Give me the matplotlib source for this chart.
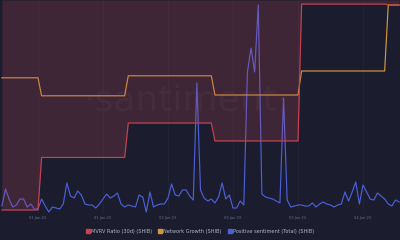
import numpy as np
import matplotlib
matplotlib.use("Agg")
import matplotlib.pyplot as plt
from matplotlib.lines import Line2D

# hourly positive sentiment (SHIB), hours relative to 01 Jan 23 00:00
hours = list(range(-10, 101))
sentiment = [
    1.75, 6, 3.5, 1.5, 2, 3.5, 3.5, 1.5, 2.25, 1,
    1, 3.5, 1.75, 0.25, 1.5, 1.25, 1, 2.25, 7.5, 4.25,
    3.75, 5.5, 4.5, 2.25, 2, 2, 1.25, 2.25, 3.5, 4.75,
    3.75, 4.25, 5, 2.25, 1.5, 2, 1.75, 1.5, 4.5, 4,
    0.25, 5.25, 1.5, 2, 2.25, 2.25, 3.75, 7.25, 4.5, 4.25,
    5.75, 5.75, 4.25, 3.25, 32.5, 5.75, 3.75, 3, 3.5, 2.5,
    4, 7.5, 3.5, 4.5, 1.25, 1.25, 3, 2, 35.25, 41.25,
    35.25, 52, 4.75, 4, 3.75, 3.5, 3, 2.5, 28.75, 3.25,
    1.5, 1.75, 2, 2, 1.75, 1.75, 2.5, 1.5, 2.25, 2.75,
    2.25, 2, 1.5, 2, 2.25, 5.25, 3, 5.25, 7.75, 2.25,
    7, 5.25, 3.5, 3.25, 5, 4.25, 3.5, 2.25, 1.75, 3.25,
    2.75,
]

# daily metrics, day index -1 = 31 Dec 22
days = [-1, 0, 1, 2, 3, 4]
mvrv = [-2.83, 0.13, 2.07, 1.06, 8.77, 8.72]
network_growth = [338, 293, 343, 295, 355, 520]

tick_hours = [0, 18, 36, 54, 72, 90]
tick_labels = ["01 Jan 23", "01 Jan 23", "02 Jan 23", "03 Jan 23", "03 Jan 23", "04 Jan 23"]

series_names = ["MVRV Ratio (30d) (SHIB)", "Network Growth (SHIB)",
                "Positive sentiment (Total) (SHIB)"]

# daily values held over the hours of each day
h = np.array(hours)
day_idx = np.floor((h - 1) / 24).astype(int)
lookup = {d: i for i, d in enumerate(days)}
mvrv_h = np.array([mvrv[lookup[d]] for d in day_idx])
ng_h = np.array([network_growth[lookup[d]] for d in day_idx])

bg = "#1b1d2e"
red = "#c8424f"
orange = "#d2973f"
blue = "#4b5fd6"

fig = plt.figure(figsize=(4, 2.4), dpi=100)
fig.patch.set_facecolor(bg)
ax = fig.add_axes([0, 27 / 240, 1, 213 / 240])
ax.set_facecolor(bg)

ax.plot(hours, sentiment, color=blue, lw=0.85)
ax.set_ylim(0, 53.25)
ax.set_xlim(-10.52, 100.25)
ax.set_xticks(tick_hours)
ax.set_xticklabels(tick_labels)
ax.tick_params(axis="x", length=0, labelsize=2.6, colors="#6d7084", pad=2.5)
ax.set_yticks([])
ax.grid(axis="x", color="#2c2e44", lw=0.5, ls=(0, (2, 2)))

ax2 = ax.twinx()
ax2.plot(hours, ng_h, color=orange, lw=0.85)
ax2.set_ylim(0, 532.5)
ax2.set_yticks([])

ax3 = ax.twinx()
ax3.plot(hours, mvrv_h, color=red, lw=0.85)
ax3.fill_between(hours, mvrv_h, 9.0, color="#d24c5a", alpha=0.2, lw=0)
ax3.set_ylim(-3.0, 9.0)
ax3.set_yticks([])

for a in (ax, ax2, ax3):
    for s in a.spines.values():
        s.set_visible(False)

ax.text(0.465, 0.53, "·santiment·", transform=ax.transAxes, ha="center", va="center",
        fontsize=26, color="white", alpha=0.04, zorder=0)

handles = [Line2D([], [], ls="", marker="s", markersize=2.3, color=c)
           for c in (red, orange, blue)]
fig.legend(handles, series_names, loc="center", bbox_to_anchor=(0.5, 9 / 240), ncol=3,
           frameon=False, fontsize=3.6, labelcolor="#b4b7c6", handletextpad=0.2,
           columnspacing=1.2, handlelength=0.8)

fig.savefig("out.png", dpi=100, facecolor=bg)
